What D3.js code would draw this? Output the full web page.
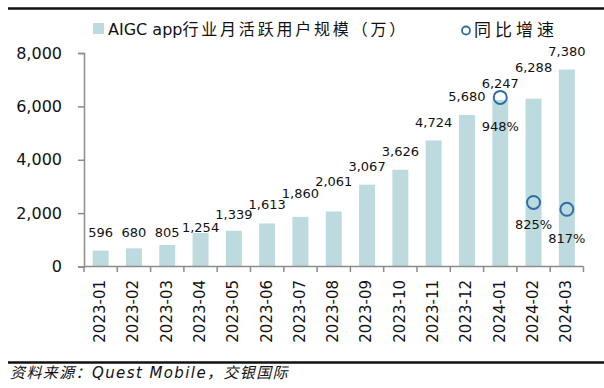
<!DOCTYPE html>
<html>
<head>
<meta charset="utf-8">
<script src="https://cdn.jsdelivr.net/npm/d3@7"></script>
<style>
  body { margin: 0; background: #fff; }
  svg { display: block; }
</style>
</head>
<body>
<svg id="chart"></svg>
<script>
// Data
const months = ["2023-01", "2023-02", "2023-03", "2023-04", "2023-05", "2023-06", "2023-07", "2023-08",
  "2023-09", "2023-10", "2023-11", "2023-12", "2024-01", "2024-02", "2024-03"];
const users = [596, 680, 805, 1254, 1339, 1613, 1860, 2061, 3067, 3626, 4724, 5680, 6247, 6288, 7380];
const growthMonths = ["2024-01", "2024-02", "2024-03"];
const growth = [948, 825, 817];
const yTicks = [0, 2000, 4000, 6000, 8000];

// layout tweaks: how far each value label sits above its bar, and pct label below its dot
const labelLift = [13.5, 11.5, 8, 1, 12, 14.5, 19, 25.5, 13.5, 13.5, 13.5, 14, 12, 27, 13.5];
const pctDrop = [34, 27, 34];

const width = 604;
const height = 388;
const barColor = "#bddbdf";
const dotColor = "#2f6ea8";
const axisColor = "#8c8c8c";
const numFont = "'DejaVu Sans', sans-serif";
const cjkFont = "'DejaVu Sans', 'Noto Sans CJK SC', sans-serif";

const svg = d3.select("#chart")
  .attr("width", width)
  .attr("height", height);

const x = d3.scaleBand()
  .domain(months)
  .range([84, 583.5])
  .paddingInner(0.52)
  .paddingOuter(0.26);

const y = d3.scaleLinear()
  .domain([0, 8000])
  .range([266.5, 53]);

// hidden secondary axis for growth rate
const y2 = d3.scaleLinear()
  .domain([750, 1000])
  .range([266.5, 53]);

// top and bottom rules
svg.append("line")
  .attr("x1", 8).attr("x2", width)
  .attr("y1", 8.5).attr("y2", 8.5)
  .attr("stroke", "#111").attr("stroke-width", 2.5);

svg.append("line")
  .attr("x1", 8).attr("x2", width)
  .attr("y1", 362.5).attr("y2", 362.5)
  .attr("stroke", "#111").attr("stroke-width", 2.5);

// bars
svg.selectAll(".bar")
  .data(users)
  .enter().append("rect")
  .attr("class", "bar")
  .attr("x", (d, i) => x(months[i]))
  .attr("y", d => y(d))
  .attr("width", x.bandwidth())
  .attr("height", d => y(0) - y(d))
  .attr("fill", barColor);

// y axis
const yAxis = svg.append("g")
  .attr("transform", "translate(84,0)")
  .call(d3.axisLeft(y).tickValues(yTicks).tickSize(6).tickPadding(16).tickFormat(d3.format(",")));
yAxis.select(".domain").attr("stroke", axisColor).attr("stroke-width", 1.5);
yAxis.selectAll(".tick line").attr("stroke", axisColor).attr("stroke-width", 1.5);
yAxis.selectAll(".tick text")
  .attr("fill", "#111")
  .style("font-family", numFont)
  .style("font-size", "16px");

// x axis: line with ticks at category boundaries
const xAxis = svg.append("g");
const [x0, x1] = x.range();
xAxis.append("line")
  .attr("x1", x0).attr("x2", x1)
  .attr("y1", y(0)).attr("y2", y(0))
  .attr("stroke", axisColor).attr("stroke-width", 1.5);
xAxis.selectAll(".xtick")
  .data(d3.range(months.length + 1))
  .enter().append("line")
  .attr("class", "xtick")
  .attr("x1", i => x0 + i * x.step())
  .attr("x2", i => x0 + i * x.step())
  .attr("y1", y(0))
  .attr("y2", y(0) + 5.5)
  .attr("stroke", axisColor).attr("stroke-width", 1.5);
xAxis.selectAll(".xlabel")
  .data(months)
  .enter().append("text")
  .attr("class", "xlabel")
  .attr("transform", d => `translate(${x(d) + x.bandwidth() / 2 - 1},280) rotate(-90)`)
  .attr("text-anchor", "end")
  .attr("dy", "0.36em")
  .attr("fill", "#111")
  .style("font-family", numFont)
  .style("font-size", "15px")
  .text(d => d);

// value labels
svg.selectAll(".vlabel")
  .data(users)
  .enter().append("text")
  .attr("class", "vlabel")
  .attr("x", (d, i) => x(months[i]) + x.bandwidth() / 2)
  .attr("y", (d, i) => y(d) - labelLift[i])
  .attr("text-anchor", "middle")
  .attr("fill", "#111")
  .style("font-family", numFont)
  .style("font-size", "13px")
  .text(d => d3.format(",")(d));

// growth dots
svg.selectAll(".dot")
  .data(growth)
  .enter().append("circle")
  .attr("class", "dot")
  .attr("cx", (d, i) => x(growthMonths[i]) + x.bandwidth() / 2)
  .attr("cy", d => y2(d))
  .attr("r", 6.5)
  .attr("fill", "none")
  .attr("stroke", dotColor)
  .attr("stroke-width", 2);

svg.selectAll(".plabel")
  .data(growth)
  .enter().append("text")
  .attr("class", "plabel")
  .attr("x", (d, i) => x(growthMonths[i]) + x.bandwidth() / 2)
  .attr("y", (d, i) => y2(d) + pctDrop[i])
  .attr("text-anchor", "middle")
  .attr("fill", "#111")
  .style("font-family", numFont)
  .style("font-size", "13px")
  .text(d => d + "%");

// legend
const legend = svg.append("g");
legend.append("rect")
  .attr("x", 93).attr("y", 23)
  .attr("width", 11).attr("height", 11)
  .attr("fill", barColor);
const legText = legend.append("text")
  .attr("x", 108).attr("y", 35)
  .attr("fill", "#111")
  .style("font-family", cjkFont)
  .style("font-size", "16px");
legText.append("tspan").text("AIGC app");
legText.append("tspan")
  .style("letter-spacing", "2.8px")
  .style("font-family", "'Noto Sans CJK SC', sans-serif")
  .text("行业月活跃用户规模（万）");

legend.append("circle")
  .attr("cx", 466).attr("cy", 30.5)
  .attr("r", 4)
  .attr("fill", "none")
  .attr("stroke", dotColor)
  .attr("stroke-width", 1.8);
legend.append("text")
  .attr("x", 474).attr("y", 36)
  .attr("fill", "#111")
  .style("font-family", "'Noto Sans CJK SC', sans-serif")
  .style("font-size", "17px")
  .style("letter-spacing", "4px")
  .text("同比增速");

// source note
svg.append("text")
  .attr("x", 10).attr("y", 378)
  .attr("fill", "#111")
  .style("font-family", cjkFont)
  .style("font-size", "15px")
  .style("font-style", "italic")
  .style("letter-spacing", "1.4px")
  .text("资料来源：Quest Mobile，交银国际");
</script>
</body>
</html>
